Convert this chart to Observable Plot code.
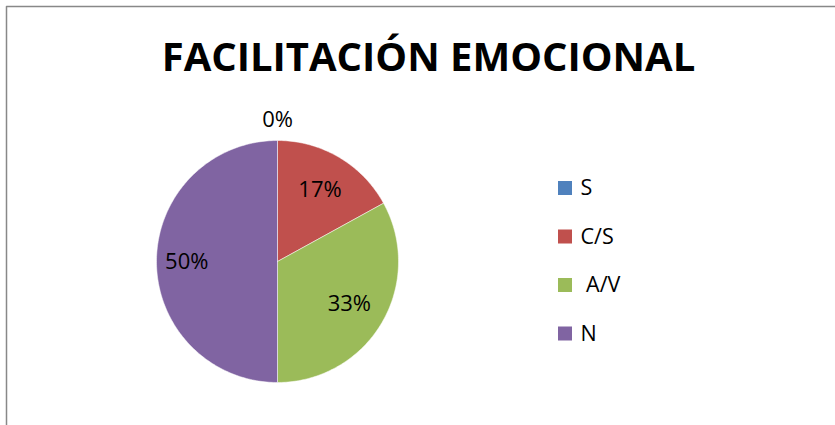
<!DOCTYPE html>
<html><head><meta charset="utf-8">
<script src="https://cdn.jsdelivr.net/npm/d3@7"></script>
<script src="https://cdn.jsdelivr.net/npm/@observablehq/plot@0.6"></script>
<style>body{margin:0;background:#fff;}svg{display:block;}</style>
</head><body><div id="chart"></div>
<script>
const title = "FACILITACIÓN EMOCIONAL";
const categories = ["S", "C/S", "A/V", "N"];
const legendLabels = ["S", "C/S", " A/V", "N"];
const values = [0, 17, 33, 50];
const colors = ["#4F81BD", "#C0504D", "#9BBB59", "#8064A2"];

const W = 835, H = 425;
const cx = 277, cy = 261, R = 121;
const font = "'Open Sans', sans-serif";

const pie = d3.pie().sort(null).value(d => d.value)(categories.map((c, i) => ({cat: c, value: values[i]})));

// polygon points per slice
const slicePts = [];
for (const a of pie) {
  if (a.endAngle - a.startAngle <= 0) continue;
  slicePts.push({cat: a.data.cat, x: cx, y: cy});
  const n = Math.max(2, Math.ceil((a.endAngle - a.startAngle) / (Math.PI / 180)));
  for (let k = 0; k <= n; k++) {
    const t = a.startAngle + (a.endAngle - a.startAngle) * k / n;
    slicePts.push({cat: a.data.cat, x: cx + R * Math.sin(t), y: cy - R * Math.cos(t)});
  }
  slicePts.push({cat: a.data.cat, x: cx, y: cy});
}

const labels = pie.map(a => {
  const mid = (a.startAngle + a.endAngle) / 2;
  const r = a.value === 0 ? R * 1.17 : (a.data.value >= 50 ? R * 0.75 : R * 0.69);
  return {text: Math.round(a.value) + "%", x: cx + r * Math.sin(mid), y: cy - r * Math.cos(mid)};
});

const legend = categories.map((c, i) => ({cat: c, label: legendLabels[i], i}));
const lgX = 558, lgY = 188, lgStep = 48.5, sw = 14;

const chart = Plot.plot({
  width: W, height: H,
  margin: 0,
  x: {domain: [0, W], range: [0, W], axis: null},
  y: {domain: [0, H], range: [0, H], axis: null},
  color: {domain: categories, range: colors},
  style: {fontFamily: font, background: "#fff"},
  marks: [
    Plot.line(slicePts, {x: "x", y: "y", z: "cat", fill: "cat", stroke: "#fff", strokeWidth: 0.5, curve: "linear"}),
    Plot.text(labels, {x: "x", y: "y", text: "text", fontSize: 22, fill: "#000", textAnchor: "middle"}),
    Plot.rect(legend, {x1: () => lgX, x2: () => lgX + sw, y1: d => lgY + d.i * lgStep - sw / 2, y2: d => lgY + d.i * lgStep + sw / 2, fill: "cat"}),
    Plot.text(legend, {x: () => lgX + 22, y: d => lgY + d.i * lgStep, text: "label", textAnchor: "start", fontSize: 21.5, fill: "#000"}),
    Plot.text([title], {x: () => 428, y: () => 58, text: d => d, fontSize: 40, fontWeight: "bold", fill: "#000", textAnchor: "middle"}),
    Plot.line([{x: 6, y: H}, {x: 6, y: 6}, {x: W, y: 6}], {x: "x", y: "y", stroke: "#888", strokeWidth: 1.5})
  ]
});
document.getElementById("chart").append(chart);
</script></body></html>
